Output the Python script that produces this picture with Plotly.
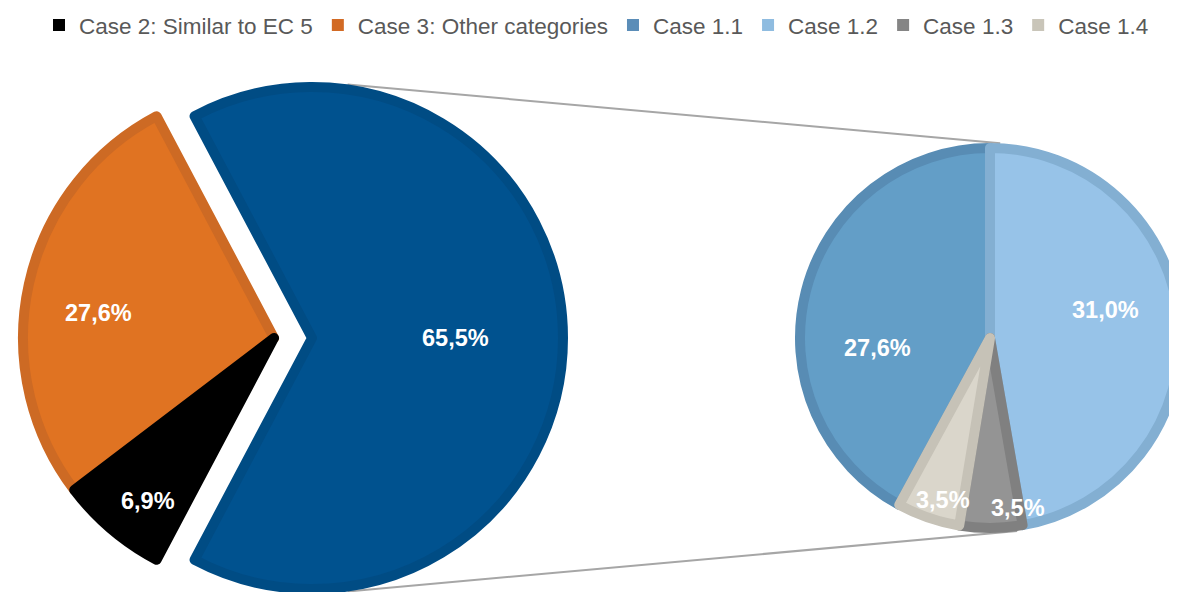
import plotly.graph_objects as go
import math

# ---------------- data ----------------
main_labels = ["Case 1", "Case 3: Other categories", "Case 2: Similar to EC 5"]
main_values = [65.5, 27.6, 6.9]
sub_labels = ["Case 1.1", "Case 1.2", "Case 1.3", "Case 1.4"]
sub_values = [27.6, 31.0, 3.5, 3.5]
legend_labels = ["Case 2: Similar to EC 5", "Case 3: Other categories",
                 "Case 1.1", "Case 1.2", "Case 1.3", "Case 1.4"]

# ---------------- style ----------------
W, H = 1177, 592
main_fill = ["#00528F", "#E07322", "#000000"]
main_line = ["#004C84", "#CD6A24", "#000000"]
sub_fill = ["#639EC7", "#97C3E8", "#949494", "#DAD6CB"]
sub_line = ["#588CB4", "#83AFD2", "#808080", "#C6C2B7"]
legend_colors = ["#000000", "#D26A24", "#5B8DB8", "#8FBCE0", "#858585", "#C9C5B9"]
clear = "rgba(0,0,0,0)"
BW = 10  # border width (half of it lies outside the slice)

# geometry (pixels): pie path radius
cA = (266, 330)      # orange/black part
cB = (304, 330)      # exploded blue part
R_main = 251
cS = (982, 330)
R_sub = 190

# label placement (fraction of radius, angular offset in degrees) per slice
main_lbl_pos = [(0.57, 0), (0.708, -4.3), (0.821, -2.6)]
sub_lbl_pos = [(0.592, -19.2), (0.623, -8.7), (0.907, -9.1), (0.888, -2.7)]


def domain(c, r):
    cl = lambda v: min(max(v, 0.0), 1.0)
    return dict(x=[cl((c[0] - r) / W), cl((c[0] + r) / W)],
                y=[cl(1 - (c[1] + r) / H), cl(1 - (c[1] - r) / H)])


def pt(c, r, ang):
    a = math.radians(ang)
    return (c[0] + r * math.sin(a), c[1] - r * math.cos(a))


# plotly: with counterclockwise direction the first slice spans [rotation, rotation+v0] clockwise
tot_main = sum(main_values)
tot_sub = sum(sub_values)
rot_main = 90 - 0.5 * main_values[0] / tot_main * 360
rot_sub = 360 * (1 - sub_values[0] / tot_sub)

fig = go.Figure()

# orange + black slices
fig.add_trace(go.Pie(
    labels=main_labels, values=main_values, sort=False,
    direction="counterclockwise", rotation=rot_main,
    domain=domain(cA, R_main),
    marker=dict(colors=[clear, main_fill[1], main_fill[2]],
                line=dict(color=[clear, main_line[1], main_line[2]], width=BW)),
    textinfo="none", showlegend=False, hoverinfo="skip"))

# exploded blue slice
fig.add_trace(go.Pie(
    labels=main_labels, values=main_values, sort=False,
    direction="counterclockwise", rotation=rot_main,
    domain=domain(cB, R_main),
    marker=dict(colors=[main_fill[0], clear, clear],
                line=dict(color=[main_line[0], clear, clear], width=BW)),
    textinfo="none", showlegend=False, hoverinfo="skip"))

# secondary pie
fig.add_trace(go.Pie(
    labels=sub_labels, values=sub_values, sort=False,
    direction="clockwise", rotation=rot_sub,
    domain=domain(cS, R_sub),
    marker=dict(colors=sub_fill, line=dict(color=sub_line, width=BW)),
    textinfo="none", showlegend=False, hoverinfo="skip"))

# legend entries
for name, col in zip(legend_labels, legend_colors):
    fig.add_trace(go.Scatter(x=[None], y=[None], mode="markers", name=name,
                             marker=dict(symbol="square", size=12, color=col)))


def fmt(v):
    return f"{v:.1f}".replace(".", ",") + "%"


lbl_font = dict(family="Liberation Sans", size=23.5, color="white", weight="bold")

# main pie labels: slice angles from data (counterclockwise after first slice)
a0 = rot_main
span0 = main_values[0] / tot_main * 360
mids = [a0 + span0 / 2]
cur = a0
for v in main_values[1:]:
    span = v / tot_main * 360
    mids.append(cur - span / 2)
    cur -= span
for i, (v, m) in enumerate(zip(main_values, mids)):
    c = cB if i == 0 else cA
    f, off = main_lbl_pos[i]
    x, y = pt(c, f * R_main, m + off)
    fig.add_annotation(x=x / W, y=1 - y / H, xref="paper", yref="paper",
                       text=fmt(v), showarrow=False, font=lbl_font,
                       xanchor="center", yanchor="middle")

# secondary pie labels (clockwise)
cur = rot_sub
for i, v in enumerate(sub_values):
    span = v / tot_sub * 360
    m = cur + span / 2
    cur += span
    f, off = sub_lbl_pos[i]
    x, y = pt(cS, f * R_sub, m + off)
    fig.add_annotation(x=x / W, y=1 - y / H, xref="paper", yref="paper",
                       text=fmt(v), showarrow=False, font=lbl_font,
                       xanchor="center", yanchor="middle")

# connector lines (from outer edge of exploded slice to the secondary pie)
for a1, a2 in [(8, 3), (172, 172)]:
    p1 = pt(cB, R_main + BW / 2, a1)
    p2 = pt(cS, R_sub + BW / 2, a2)
    fig.add_shape(type="line", xref="paper", yref="paper",
                  x0=p1[0] / W, y0=1 - p1[1] / H, x1=p2[0] / W, y1=1 - p2[1] / H,
                  line=dict(color="#A6A6A6", width=2), layer="below")

fig.update_layout(
    width=W, height=H,
    margin=dict(l=0, r=0, t=0, b=0, autoexpand=False),
    paper_bgcolor="white", plot_bgcolor="white",
    xaxis=dict(visible=False), yaxis=dict(visible=False),
    legend=dict(orientation="h", x=0.5, xanchor="center", y=1.007, yanchor="top",
                font=dict(family="Liberation Sans", size=22.5, color="#595959"),
                itemwidth=30, bgcolor="rgba(0,0,0,0)"),
    font=dict(family="Liberation Sans"),
)

fig.write_html("out.html")
